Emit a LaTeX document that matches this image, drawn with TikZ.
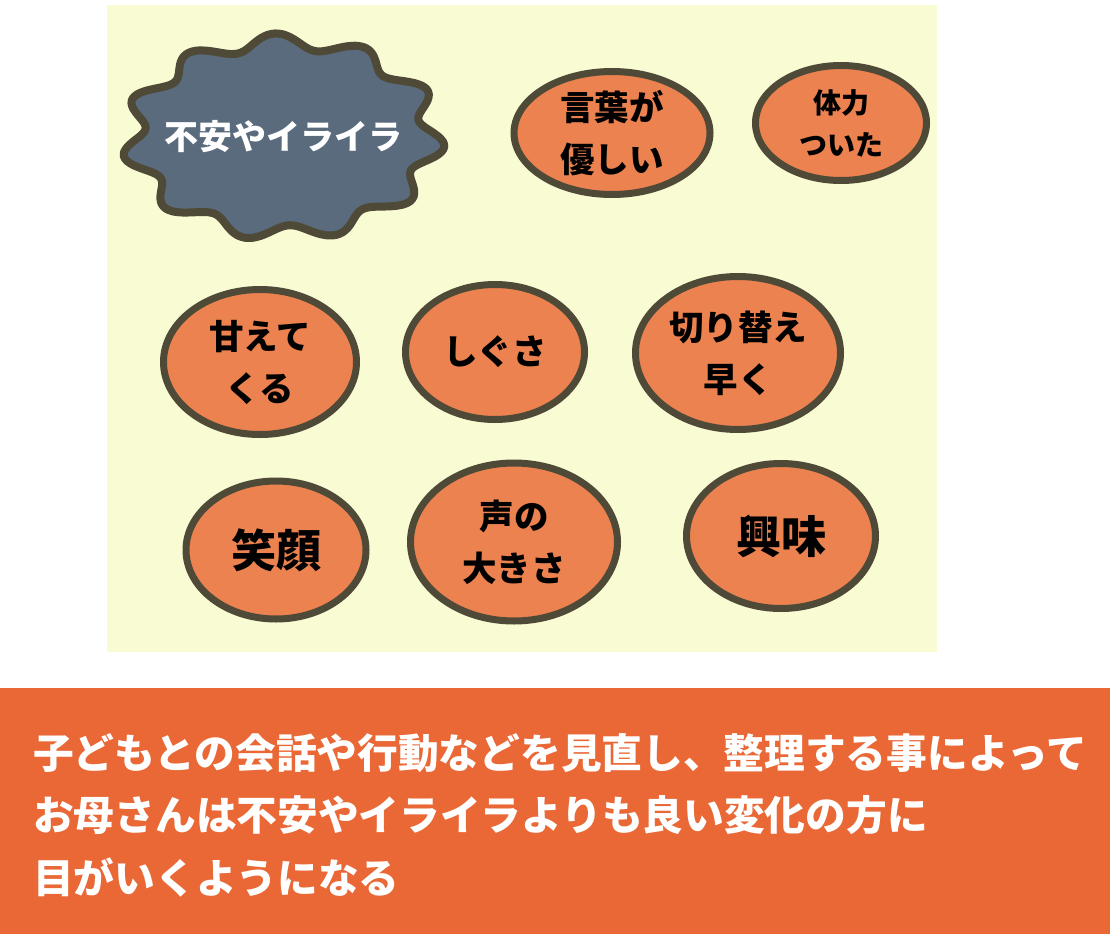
\documentclass[tikz,border=0pt]{standalone}
\usepackage{fontspec}
\setmainfont{Noto Sans CJK JP}
\usetikzlibrary{positioning,shapes.geometric}
\definecolor{panelyellow}{HTML}{F9FBD2}
\definecolor{ovalorange}{HTML}{EC8250}
\definecolor{edgebrown}{HTML}{4E4A37}
\definecolor{cloudgray}{HTML}{5B6B7E}
\definecolor{bannerorange}{HTML}{E96836}
\tikzset{
  ovalnode/.style={ellipse, draw=edgebrown, line width=7pt, fill=ovalorange, inner sep=0pt, align=center, text=black},
  bigtext/.style={font=\bfseries\fontsize{34.5}{52}\selectfont},
  hugetext/.style={font=\bfseries\fontsize{45}{52}\selectfont},
  smalltext/.style={font=\bfseries\fontsize{28}{42}\selectfont},
  cloudline/.style={draw=edgebrown, line width=8pt, fill=cloudgray, line join=round},
  cloudtext/.style={text=white, font=\bfseries\fontsize{34}{40}\selectfont},
  bannertext/.style={text=white, align=left, anchor=west, inner sep=0pt, font=\bfseries\fontsize{40.7}{62.5}\selectfont}
}

\begin{document}
\begin{tikzpicture}[x=1pt, y=-1pt]
      \useasboundingbox (0,0) rectangle (1110,934);
      \fill[white] (0,0) rectangle (1110,934);
      \fill[panelyellow] (107,5) rectangle (937,652);
      \fill[bannerorange] (0,688) rectangle (1110,934);
      % worry cloud
      \draw[cloudline] plot[domain=0:360, samples=133, smooth cycle]
        ({283+150*cos(\x)*(1+0.08*sin(11*\x+30))}, {137+96*sin(\x)*(1+0.08*sin(11*\x+30))});
      \node[cloudtext] (worry) at (283,137) {不安やイライラ};
      % changes
      \node[ovalnode, bigtext, minimum width=196, minimum height=123] (words) at (612,133) {言葉が\\優しい};
      \node[ovalnode, smalltext, minimum width=171, minimum height=115] (stamina) at (841,123) {体力\\ついた};
      \node[ovalnode, bigtext, minimum width=193, minimum height=145] (clingy) at (260,362) {甘えて\\くる};
      \node[ovalnode, bigtext, minimum width=179, minimum height=135] (gesture) at (495,352) {しぐさ};
      \node[ovalnode, bigtext, minimum width=205, minimum height=153] (switch) at (738,353) {切り替え\\早く};
      \node[ovalnode, hugetext, minimum width=180, minimum height=138] (smile) at (276,550) {笑顔};
      \node[ovalnode, bigtext, minimum width=207, minimum height=158] (voice) at (514,542) {声の\\大きさ};
      \node[ovalnode, hugetext, minimum width=189, minimum height=145] (interest) at (781,536) {興味};
      % summary
      \node[bannertext] (summary) at (33,815) {子どもとの会話や行動などを見直し、整理する事によって\\お母さんは不安やイライラよりも良い変化の方に\\目がいくようになる};
    \end{tikzpicture}
\end{document}
